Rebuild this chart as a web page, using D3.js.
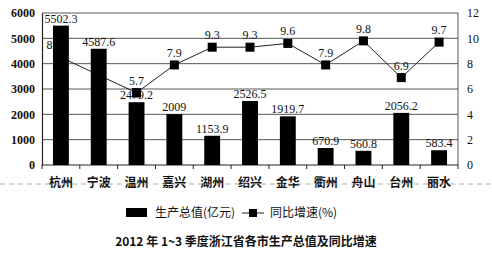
<!DOCTYPE html>
<html>
<head>
<meta charset="utf-8">
<script src="https://cdn.jsdelivr.net/npm/d3@7"></script>
<style>
body { margin: 0; background: #fff; }
svg { display: block; }
</style>
</head>
<body>
<svg id="chart" width="492" height="257"></svg>
<script>
const cities = ["杭州", "宁波", "温州", "嘉兴", "湖州", "绍兴", "金华", "衢州", "舟山", "台州", "丽水"];
const gdp = [5502.3, 4587.6, 2479.2, 2009, 1153.9, 2526.5, 1919.7, 670.9, 560.8, 2056.2, 583.4];
const growth = [8.5, null, 5.7, 7.9, 9.3, 9.3, 9.6, 7.9, 9.8, 6.9, 9.7];
const growthLine = [8.5, 7.1, 5.7, 7.9, 9.3, 9.3, 9.6, 7.9, 9.8, 6.9, 9.7];
const leftTicks = [0, 1000, 2000, 3000, 4000, 5000, 6000];
const rightTicks = [0, 2, 4, 6, 8, 10, 12];

const svg = d3.select("#chart");
const margin = { top: 13, right: 34, bottom: 92, left: 42 };
const width = +svg.attr("width") - margin.left - margin.right;
const height = +svg.attr("height") - margin.top - margin.bottom;
const g = svg.append("g").attr("transform", "translate(" + margin.left + "," + margin.top + ")");

const serif = "'Liberation Serif', 'DejaVu Serif', serif";
const cjk = "'Noto Sans CJK SC', sans-serif";

const x = d3.scaleBand().domain(cities).range([0, width]).paddingInner(0.58).paddingOuter(0.29);
const yL = d3.scaleLinear().domain([0, 6000]).range([height, 0]);
const yR = d3.scaleLinear().domain([0, 12]).range([height, 0]);

// grid
g.selectAll(".grid").data(leftTicks.slice(1)).enter().append("line")
    .attr("x1", 0).attr("x2", width)
    .attr("y1", d => yL(d)).attr("y2", d => yL(d))
    .attr("stroke", "#444").attr("stroke-width", 0.9);
g.append("line").attr("x1", width).attr("x2", width).attr("y1", 0).attr("y2", height)
    .attr("stroke", "#444").attr("stroke-width", 0.9);

// left axis
const axL = g.append("g").call(d3.axisLeft(yL).tickValues(leftTicks).tickFormat(d3.format("d")).tickSize(0).tickPadding(7));
axL.select(".domain").attr("stroke", "#222").attr("stroke-width", 1.2);
axL.selectAll("text").attr("font-family", serif).attr("font-size", 12).attr("font-weight", "bold").attr("fill", "#111");

// right axis
const axR = g.append("g").attr("transform", "translate(" + width + ",0)")
    .call(d3.axisRight(yR).tickValues(rightTicks).tickSize(0).tickPadding(9));
axR.select(".domain").remove();
axR.selectAll("text").attr("font-family", serif).attr("font-size", 12).attr("fill", "#111");

// bottom axis
g.append("line").attr("x1", 0).attr("x2", width).attr("y1", height).attr("y2", height)
    .attr("stroke", "#222").attr("stroke-width", 1.2);
const step = x.step();
g.selectAll(".xtick").data(d3.range(cities.length + 1)).enter().append("line")
    .attr("x1", i => i * step).attr("x2", i => i * step)
    .attr("y1", height).attr("y2", height + 4)
    .attr("stroke", "#222");
g.selectAll(".xlab").data(cities).enter().append("text")
    .attr("x", d => x(d) + x.bandwidth() / 2).attr("y", height + 22)
    .attr("text-anchor", "middle").attr("font-family", cjk).attr("font-size", 12).attr("font-weight", "bold")
    .attr("fill", "#111").text(d => d);

// scan dashed line
svg.append("line").attr("x1", 0).attr("x2", 492).attr("y1", 184).attr("y2", 184)
    .attr("stroke", "#999").attr("stroke-dasharray", "5,4").attr("stroke-width", 0.8);

// line
const line = d3.line().x((d, i) => x(cities[i]) + x.bandwidth() / 2).y(d => yR(d));
g.append("path").datum(growthLine).attr("d", line).attr("fill", "none").attr("stroke", "#222").attr("stroke-width", 1);
g.selectAll(".mk").data(growth.map((v, i) => ({ v, i })).filter(d => d.v !== null)).enter().append("rect")
    .attr("x", d => x(cities[d.i]) + x.bandwidth() / 2 - 4.5)
    .attr("y", d => yR(d.v) - 4.5)
    .attr("width", 9).attr("height", 9).attr("fill", "#000");
g.selectAll(".gl").data(growth.map((v, i) => ({ v, i })).filter(d => d.v !== null)).enter().append("text")
    .attr("x", d => x(cities[d.i]) + x.bandwidth() / 2 - (d.i === 0 ? 7 : 0))
    .attr("y", d => yR(d.v) - 8)
    .attr("text-anchor", "middle").attr("font-family", serif).attr("font-size", 12).attr("fill", "#111")
    .text(d => d.v);

// bars
g.selectAll(".bar").data(gdp).enter().append("rect")
    .attr("x", (d, i) => x(cities[i])).attr("width", x.bandwidth())
    .attr("y", d => yL(d)).attr("height", d => height - yL(d))
    .attr("fill", "#000");
g.selectAll(".bl").data(gdp).enter().append("text")
    .attr("x", (d, i) => x(cities[i]) + x.bandwidth() / 2)
    .attr("y", d => yL(d) - 3)
    .attr("text-anchor", "middle").attr("font-family", serif).attr("font-size", 12).attr("fill", "#111")
    .text(d => d);

// Wenzhou marker sits over bar label
g.append("rect")
    .attr("x", x("温州") + x.bandwidth() / 2 - 4.5).attr("y", yR(5.7) - 4.5)
    .attr("width", 9).attr("height", 9).attr("fill", "#000");

// legend
const leg = svg.append("g").attr("transform", "translate(0,213)");
leg.append("rect").attr("x", 126).attr("y", -5).attr("width", 21).attr("height", 9).attr("fill", "#000");
leg.append("text").attr("x", 155).attr("y", 4).attr("font-family", cjk).attr("font-size", 12).attr("fill", "#111").text("生产总值(亿元)");
leg.append("line").attr("x1", 242).attr("x2", 264).attr("y1", 0).attr("y2", 0).attr("stroke", "#222");
leg.append("rect").attr("x", 249).attr("y", -4).attr("width", 8).attr("height", 8).attr("fill", "#000");
leg.append("text").attr("x", 270).attr("y", 4).attr("font-family", cjk).attr("font-size", 12).attr("fill", "#111").text("同比增速(%)");

// title
svg.append("text").attr("x", 246).attr("y", 246).attr("text-anchor", "middle")
    .attr("font-family", cjk).attr("font-size", 12).attr("font-weight", "bold").attr("fill", "#111")
    .text("2012 年 1~3 季度浙江省各市生产总值及同比增速");
</script>
</body>
</html>
